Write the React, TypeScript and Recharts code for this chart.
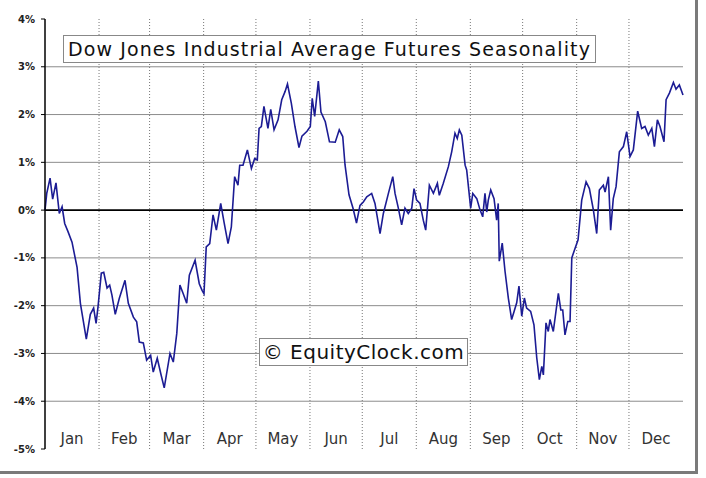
import React from 'react'
import { LineChart, Line, XAxis, YAxis, ReferenceLine } from 'recharts'

const months = ['Jan', 'Feb', 'Mar', 'Apr', 'May', 'Jun', 'Jul', 'Aug', 'Sep', 'Oct', 'Nov', 'Dec']
const monthStarts = [0, 31, 60, 91, 121, 152, 182, 213, 244, 274, 305, 335, 366]
const yTicks = [-5, -4, -3, -2, -1, 0, 1, 2, 3, 4]
const gridLevels = [3, 2, 1, -1, -2, -3, -4]

// day of year (leap year) and average seasonal return in %
const days = [
  0, 1, 2.9, 4.4, 6.3, 8.2, 9.8, 11.3, 13.2, 15.5, 18.4, 20.3, 22.2, 23.7, 26, 27.9, 29.3, 30.4,
  32.3, 33.7, 35.6, 37.1, 38.4, 40.3, 42.6, 45.9, 47.8, 50.7, 52.6, 54.1, 56.4, 58.3, 60.6, 62.1,
  64.4, 66.4, 68.4, 71.7, 73.6, 75.6, 77.4, 79.3, 81.3, 82.8, 86.1, 88.5, 90.1, 91.2, 92.5, 94.5,
  96.4, 98.3, 100.8, 102.7, 105, 106.9, 108.8, 110.7, 111.7, 113.6, 116.1, 118.4, 120.3, 121.8,
  122.8, 124.1, 125.6, 127.9, 129.5, 131.4, 133.7, 135.8, 137.7, 139.1, 141.3, 143.4, 145.7, 147.4,
  150.3, 152.2, 153.3, 154.7, 156.8, 158.3, 160.8, 163.2, 166.5, 168.8, 170.8, 172.1, 174.4, 176.7,
  178.7, 180.7, 182.6, 184.6, 187.4, 189.3, 190.6, 192.2, 194.1, 197, 199.5, 200.8, 202.7, 204.6,
  206.5, 208.4, 210.4, 211.7, 213.2, 215.1, 217, 218.4, 220.5, 222.8, 225.1, 226.2, 228.5, 231.4,
  233.3, 235.2, 236.5, 237.7, 239.1, 241, 241.9, 244.2, 245.4, 247.7, 249.6, 251.1, 252.4, 253.4,
  254.3, 255.7, 257.6, 259.1, 260, 260.6, 262.3, 263.9, 265.8, 267.7, 269.1, 270.6, 271.9, 273.5,
  275, 276.3, 278.6, 280.5, 282.1, 283.6, 285, 285.9, 287.4, 288.7, 289.7, 291.6, 294.5, 295.9,
  297, 298.3, 299.9, 301.2, 302.2, 304.1, 305.8, 307.9, 310.4, 312.3, 314.6, 316.5, 318, 320.3,
  321.3, 323.2, 324.5, 326, 327.6, 329.5, 331.8, 333.7, 335.6, 337.5, 340, 342.3, 344.2, 346.1,
  348.1, 349.6, 351.3, 352.8, 355.1, 356.3, 358.2, 360.5, 362, 363.9, 366,
]
const pct = [
  0, 0.35, 0.67, 0.23, 0.57, -0.07, 0.07, -0.28, -0.45, -0.67, -1.2, -1.95, -2.37, -2.7, -2.18, -2.05, -2.37, -2.03,
  -1.32, -1.3, -1.63, -1.57, -1.78, -2.18, -1.85, -1.47, -1.95, -2.24, -2.34, -2.76, -2.78, -3.14, -3.04, -3.39,
  -3.1, -3.42, -3.72, -3.0, -3.18, -2.58, -1.57, -1.75, -1.95, -1.36, -1.05, -1.54, -1.68, -1.75, -0.77, -0.7,
  -0.1, -0.42, 0.14, -0.25, -0.7, -0.35, 0.7, 0.52, 0.94, 0.94, 1.26, 0.87, 1.08, 1.05,
  1.71, 1.75, 2.17, 1.71, 2.11, 1.68, 1.89, 2.31, 2.48, 2.64, 2.24, 1.75, 1.31, 1.55,
  1.65, 1.75, 2.34, 1.96, 2.7, 2.05, 1.85, 1.43, 1.42, 1.68, 1.54, 0.95, 0.32, 0.04,
  -0.27, 0.1, 0.17, 0.28, 0.35, 0.14, -0.14, -0.49, -0.07, 0.35, 0.7, 0.35, 0.04, -0.31,
  0.04, -0.07, 0.04, 0.45, 0.21, 0.14, -0.21, -0.42, 0.52, 0.35, 0.56, 0.31, 0.56, 0.91,
  1.22, 1.61, 1.5, 1.68, 1.57, 0.94, 0.84, 0.04, 0.35, 0.24, 0.0, -0.14, 0.35, -0.04,
  0.21, 0.42, 0.24, -0.21, 0.14, -1.07, -0.69, -1.28, -1.84, -2.29, -2.12, -1.94, -1.59, -2.22,
  -1.84, -2.05, -2.12, -2.4, -3.09, -3.55, -3.27, -3.45, -2.36, -2.54, -2.29, -2.54, -1.74, -2.09,
  -2.09, -2.61, -2.33, -2.33, -1.0, -0.8, -0.62, 0.21, 0.59, 0.45, 0.0, -0.49, 0.42, 0.52,
  0.38, 0.7, -0.42, 0.24, 0.49, 1.22, 1.33, 1.64, 1.12, 1.26, 2.07, 1.71, 1.75, 1.57,
  1.71, 1.33, 1.89, 1.75, 1.43, 2.31, 2.45, 2.67, 2.53, 2.62, 2.41,
]

const data = days.map((d, i) => ({ day: d, pct: pct[i] }))
const monthMids = months.map((_, i) => (monthStarts[i] + monthStarts[i + 1]) / 2)

const font = '"DejaVu Sans", Verdana, sans-serif'

function MonthTick(props: any) {
  const { x, y, payload } = props
  const idx = monthMids.indexOf(payload.value)
  return (
    <text x={x} y={y - 5} textAnchor="middle" fontFamily={font} fontSize={15} fill="#333">
      {months[idx]}
    </text>
  )
}

export default function App() {
  return (
    <div style={{ position: 'absolute', left: 0, top: 0, width: 706, height: 478, background: '#fff' }}>
      <LineChart
        width={706}
        height={478}
        data={data}
        margin={{ top: 19, right: 23, bottom: 0, left: 0 }}
      >
        {gridLevels.map((v) => (
          <ReferenceLine key={'h' + v} y={v} stroke="#8c8c8c" strokeWidth={1} />
        ))}
        {monthStarts.slice(1, 12).map((d) => (
          <ReferenceLine key={'v' + d} x={d} stroke="#777" strokeDasharray="1 2" strokeWidth={1} />
        ))}
        <ReferenceLine y={0} stroke="#000" strokeWidth={1.6} />
        <XAxis
          dataKey="day"
          type="number"
          domain={[0, 366]}
          ticks={monthMids}
          height={29}
          axisLine={false}
          tickLine={false}
          tickSize={0}
          tickMargin={0}
          interval={0}
          tick={<MonthTick />}
        />
        <YAxis
          type="number"
          domain={[-5, 4]}
          ticks={yTicks}
          width={45}
          interval={0}
          axisLine={{ stroke: '#000', strokeWidth: 1.5 }}
          tickLine={{ stroke: '#000' }}
          tickSize={4}
          tickMargin={6}
          tickFormatter={(v: number) => `${v}%`}
          tick={{ fontFamily: font, fontSize: 10, fontWeight: 700, fill: '#222' }}
        />
        <Line
          type="linear"
          dataKey="pct"
          stroke="#1c1c94"
          strokeWidth={1.6}
          dot={false}
          isAnimationActive={false}
        />
      </LineChart>
      <div
        style={{
          position: 'absolute',
          left: 0,
          top: 0,
          width: 695,
          height: 471,
          borderRight: '3px solid #7a7a7a',
          borderBottom: '3px solid #7a7a7a',
          pointerEvents: 'none',
        }}
      />
      <div
        style={{
          position: 'absolute',
          left: 63,
          top: 35,
          width: 531,
          height: 26,
          border: '1px solid #888',
          background: '#fff',
          fontFamily: font,
          fontSize: 19,
          letterSpacing: 1.1,
          lineHeight: '26px',
          color: '#111',
          textAlign: 'center',
          whiteSpace: 'nowrap',
        }}
      >
        Dow Jones Industrial Average Futures Seasonality
      </div>
      <div
        style={{
          position: 'absolute',
          left: 259,
          top: 338,
          width: 207,
          height: 26,
          border: '1px solid #888',
          background: '#fff',
          fontFamily: font,
          fontSize: 20,
          letterSpacing: 0.5,
          lineHeight: '26px',
          color: '#111',
          textAlign: 'center',
          whiteSpace: 'nowrap',
        }}
      >
        © EquityClock.com
      </div>
    </div>
  )
}
